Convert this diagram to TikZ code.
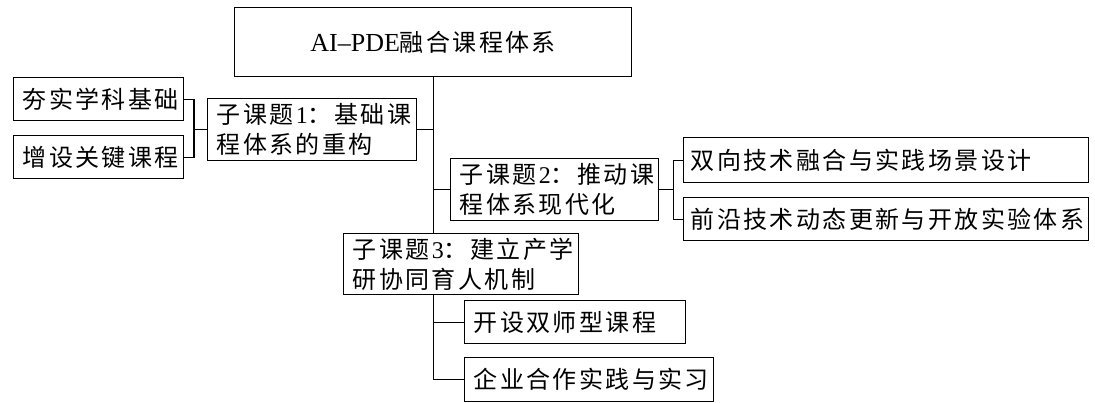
\documentclass[tikz,border=0pt]{standalone}
\usepackage{fontspec}
\usetikzlibrary{calc}
\newfontfamily\cjk{Noto Sans CJK SC}
\newfontfamily\lat{Liberation Serif}
\newlength\cw
\newcommand\spc[2][26.4pt]{\setlength\cw{#1}\spcaux#2\relax}
\def\spcaux#1{\ifx#1\relax\else\makebox[\cw][l]{#1}\expandafter\spcaux\fi}
\newcommand\dg[1]{\makebox[12pt][l]{\lat #1}}
\begin{document}
\begin{tikzpicture}[x=1pt,y=-1pt,
  bx/.style={draw, line width=1.4pt, anchor=north west, inner xsep=9pt, inner ysep=0pt, align=left, font=\fontsize{24}{30}\cjk},
  bxw/.style={bx, inner xsep=7pt},
  ln/.style={line width=1.2pt}]
\fill[white] (0,0) rectangle (1095,402);
\useasboundingbox (0,0) rectangle (1095,402);
\node[bx, minimum width=397pt, minimum height=69pt, align=center] (root) at (234,7) {{\lat\fontsize{26}{30}\selectfont AI–PDE}\spc{融合课程体}系};
\node[bx, text width=152pt, minimum height=43pt] (a1) at (13,77) {\spc{夯实学科基础}};
\node[bx, text width=152pt, minimum height=43pt] (a2) at (13,135) {\spc{增设关键课程}};
\node[bx, text width=191pt, minimum height=62pt] (s1) at (207,98) {\spc{子课题}\dg{1}\spc{：基础课}\\\spc{程体系的重构}};
\node[bx, text width=190pt, minimum height=62pt] (s2) at (450,158) {\spc{子课题}\dg{2}\spc{：推动课}\\\spc{程体系现代化}};
\node[bxw, text width=391pt, minimum height=45pt] (b1) at (683,137) {\spc{双向技术融合与实践场景设计}};
\node[bxw, text width=391pt, minimum height=43pt] (b2) at (683,197) {\spc{前沿技术动态更新与开放实验体}系};
\node[bx, text width=217pt, minimum height=61pt] (s3) at (343,233) {\spc{子课题}\dg{3}\spc{：建立产学}\\\spc{研协同育人机制}};
\node[bx, text width=203pt, minimum height=43pt] (c1) at (464,300) {\spc{开设双师型课程}};
\node[bx, text width=231pt, minimum height=44pt] (c2) at (464,357) {\spc{企业合作实践与实习}};
% connectors
\coordinate (j1) at (194,129);
\draw[ln] (a1.east) -| (j1) |- (a2.east);
\draw[ln] (j1 |- s1.west) -- (s1.west);
\draw[ln] (root.south) -- (root.south |- s3.north);
\draw[ln] (s1.east) -- (s1.east -| root.south);
\draw[ln] (s2.west -| root.south) -- (s2.west);
\coordinate (j2) at ($(s2.east)+(14,0)$);
\draw[ln] (s2.east) -- (j2);
\draw[ln] (b1.west) -| (j2) |- (b2.west);
\coordinate (j3) at (root.south |- s3.south);
\draw[ln] (j3) |- (c2.west);
\draw[ln] (j3 |- c1.west) -- (c1.west);
\end{tikzpicture}
\end{document}
